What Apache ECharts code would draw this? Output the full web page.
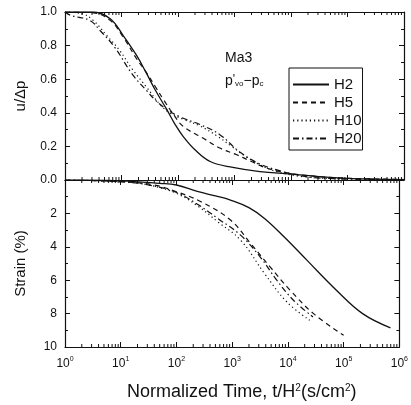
<!DOCTYPE html>
<html>
<head>
<meta charset="utf-8">
<script src="https://cdn.jsdelivr.net/npm/echarts@6/dist/echarts.min.js"></script>
<style>
html,body{margin:0;padding:0;background:#fff;}
#chart{width:411px;height:405px;}
</style>
</head>
<body>
<div id="chart"></div>
<script>
// x values are log10 of normalized time t/H^2 (s/cm^2)
const xExponents = [0, 1, 2, 3, 4, 5, 6];
const seriesNames = ['H2', 'H5', 'H10', 'H20'];

// Top panel: u/Δp
const poreH2 = [[0,1.0],[0.5,1.0],[0.8,0.96],[1.03,0.86],[1.27,0.74],[1.45,0.63],[1.59,0.54],[1.8,0.42],[1.95,0.33],[2.09,0.26],[2.3,0.18],[2.57,0.11],[2.97,0.075],[3.45,0.05],[4.0,0.035],[4.5,0.02],[5.0,0.01],[5.5,0.005],[6.0,0.002]];
const poreH5 = [[0,1.0],[0.5,0.995],[0.8,0.95],[1.03,0.85],[1.27,0.72],[1.45,0.635],[1.6,0.555],[1.75,0.475],[1.9,0.4],[2.09,0.32],[2.44,0.25],[2.74,0.19],[3.04,0.15],[3.3,0.11],[3.58,0.07],[3.98,0.04],[4.5,0.02],[5.0,0.01],[6.0,0.003]];
const poreH10 = [[0,1.0],[0.3,0.99],[0.5,0.95],[0.74,0.86],[0.97,0.77],[1.19,0.66],[1.45,0.55],[1.68,0.45],[1.85,0.4],[2.1,0.36],[2.4,0.32],[2.7,0.26],[2.95,0.2],[3.2,0.14],[3.45,0.09],[3.75,0.05],[4.2,0.02],[4.7,0.01],[6.0,0.002]];
const poreH20 = [[0,1.0],[0.1,0.98],[0.44,0.95],[0.62,0.89],[0.88,0.79],[1.19,0.63],[1.45,0.53],[1.6,0.475],[1.8,0.42],[2.04,0.375],[2.39,0.33],[2.74,0.27],[3.1,0.165],[3.45,0.095],[3.75,0.06],[4.1,0.03],[4.6,0.01],[6.0,0.002]];

// Bottom panel: strain (%)
const strainH2 = [[0,0],[1.0,0.05],[1.7,0.2],[2.0,0.3],[2.39,0.7],[2.7,0.95],[2.97,1.2],[3.3,1.65],[3.58,2.3],[3.93,3.4],[4.34,4.8],[4.87,6.6],[5.34,8.0],[5.84,8.85]];
const strainH5 = [[0,0],[1.0,0.1],[1.6,0.3],[2.0,0.7],[2.44,1.3],[2.97,2.4],[3.33,3.8],[3.68,5.2],[4.04,6.6],[4.46,8.0],[5.0,9.3]];
const strainH10 = [[0,0],[1.0,0.1],[1.5,0.3],[2.0,0.8],[2.4,1.6],[2.74,2.5],[3.15,3.6],[3.58,5.6],[3.98,7.3],[4.39,8.4]];
const strainH20 = [[0,0],[1.0,0.1],[1.5,0.3],[2.0,0.75],[2.4,1.5],[2.74,2.3],[3.15,3.3],[3.5,4.6],[3.8,6.0],[4.1,7.2],[4.45,8.2]];

const lineStyles = {
  H2: {type: 'solid', width: 1.3},
  H5: {type: [5, 4], width: 1.2},
  H10: {type: [1.2, 3], width: 1.2},
  H20: {type: [6, 3, 1.5, 3], width: 1.2}
};

// minor (log) tick positions for axis decoration
const minorTicks = [];
for (let n = 0; n < 6; n++) for (let k = 2; k <= 9; k++) minorTicks.push([n + Math.log10(k)]);

const chart = echarts.init(document.getElementById('chart'));
const FONT = 'Liberation Sans';
const black = '#111';

function xAxisCfg(gridIndex, position, showLabels) {
  return {
    type: 'value', gridIndex, position, min: 0, max: 6, interval: 1,
    axisLine: {show: true, onZero: false, lineStyle: {color: black, width: 1.2}},
    axisTick: {show: true, inside: true, length: 5, lineStyle: {color: black}},
    splitLine: {show: false},
    axisLabel: showLabels ? {
      show: true, margin: 9, color: black, fontFamily: FONT,
      formatter: v => '{b|10}{s|' + v + '}',
      rich: {b: {fontSize: 12, fontFamily: FONT, color: black}, s: {fontSize: 7, fontFamily: FONT, color: black, verticalAlign: 'bottom', padding: [0,0,8,0]}}
    } : {show: false}
  };
}

function yAxisCfg(gridIndex, position, opts) {
  return Object.assign({
    type: 'value', gridIndex, position,
    axisLine: {show: true, onZero: false, lineStyle: {color: black, width: 1.2}},
    axisTick: {show: true, inside: true, length: 5, lineStyle: {color: black}},
    minorTick: {show: true, splitNumber: 2, length: 3, lineStyle: {color: black}},
    splitLine: {show: false}
  }, opts);
}

function mk(name, data, xi, yi) {
  return {
    name, type: 'line', xAxisIndex: xi, yAxisIndex: yi, data,
    smooth: 0.4, showSymbol: false, symbol: 'none',
    lineStyle: Object.assign({color: black}, lineStyles[name]),
    itemStyle: {color: black}, z: 3
  };
}

function tickSeries(xi, yi, yA, yB) {
  return {
    type: 'custom', xAxisIndex: xi, yAxisIndex: yi, data: minorTicks, silent: true, z: 4,
    renderItem: (params, api) => {
      const x = api.value(0);
      const pA = api.coord([x, yA]);
      const pB = api.coord([x, yB]);
      const yBot = Math.max(pA[1], pB[1]);
      const yTop = Math.min(pA[1], pB[1]);
      const st = {stroke: black, lineWidth: 1};
      return {type: 'group', children: [
        {type: 'line', shape: {x1: pA[0], y1: yBot, x2: pA[0], y2: yBot - 3}, style: st},
        {type: 'line', shape: {x1: pA[0], y1: yTop, x2: pA[0], y2: yTop + 3}, style: st}
      ]};
    }
  };
}

const option = {
  animation: false,
  backgroundColor: '#fff',
  grid: [
    {left: 65, top: 12, width: 339, height: 168},
    {left: 65, top: 180, width: 339, height: 167}
  ],
  xAxis: [
    xAxisCfg(0, 'bottom', false),
    xAxisCfg(0, 'top', false),
    xAxisCfg(1, 'bottom', true),
    xAxisCfg(1, 'top', false)
  ],
  yAxis: [
    yAxisCfg(0, 'left', {min: 0, max: 1, interval: 0.2,
      name: 'u/Δp', nameLocation: 'middle', nameGap: 37,
      nameTextStyle: {fontSize: 15, fontFamily: FONT, color: black},
      axisLabel: {show: true, color: black, fontSize: 12, fontFamily: FONT, margin: 8, formatter: v => v.toFixed(1)}}),
    yAxisCfg(0, 'right', {min: 0, max: 1, interval: 0.2, axisLabel: {show: false}}),
    yAxisCfg(1, 'left', {min: 0, max: 10, interval: 2, inverse: true,
      name: 'Strain (%)', nameLocation: 'middle', nameGap: 37,
      nameTextStyle: {fontSize: 15, fontFamily: FONT, color: black},
      axisLabel: {show: true, color: black, fontSize: 12, fontFamily: FONT, margin: 8, showMinLabel: false}}),
    yAxisCfg(1, 'right', {min: 0, max: 10, interval: 2, inverse: true, axisLabel: {show: false}})
  ],
  legend: {
    show: true, orient: 'vertical', left: 289, top: 68,
    data: seriesNames,
    backgroundColor: '#fff',
    borderColor: black, borderWidth: 1, borderRadius: 0,
    padding: [9, 1, 4, 3], itemGap: 3, itemWidth: 36, itemHeight: 14,
    textStyle: {fontSize: 15, fontFamily: FONT, color: black},
    itemStyle: {opacity: 0},
    selectedMode: false
  },
  graphic: [
    {type: 'text', left: 225, top: 51, style: {text: 'Ma3', fontSize: 14, fontFamily: FONT, fill: black}},
    {type: 'text', left: 225, top: 74, style: {
      text: "{a|p}{t|'}{s|vo}{a|−p}{s|c}",
      rich: {
        a: {fontSize: 14, fontFamily: FONT, fill: black},
        t: {fontSize: 12, fontFamily: FONT, fill: black, verticalAlign: 'top'},
        s: {fontSize: 8, fontFamily: FONT, fill: black, verticalAlign: 'bottom'}
      }}},
    {type: 'text', left: 127, top: 383, style: {
      text: '{a|Normalized Time, t/H}{s|2}{a|(s/cm}{s|2}{a|)}',
      rich: {
        a: {fontSize: 18, fontFamily: FONT, fill: black},
        s: {fontSize: 10, fontFamily: FONT, fill: black, verticalAlign: 'top'}
      }}}
  ],
  series: [
    mk('H2', poreH2, 0, 0), mk('H5', poreH5, 0, 0), mk('H10', poreH10, 0, 0), mk('H20', poreH20, 0, 0),
    mk('H2', strainH2, 2, 2), mk('H5', strainH5, 2, 2), mk('H10', strainH10, 2, 2), mk('H20', strainH20, 2, 2),
    tickSeries(0, 0, 0, 1),
    tickSeries(2, 2, 10, 0)
  ]
};
chart.setOption(option);
</script>
</body>
</html>
